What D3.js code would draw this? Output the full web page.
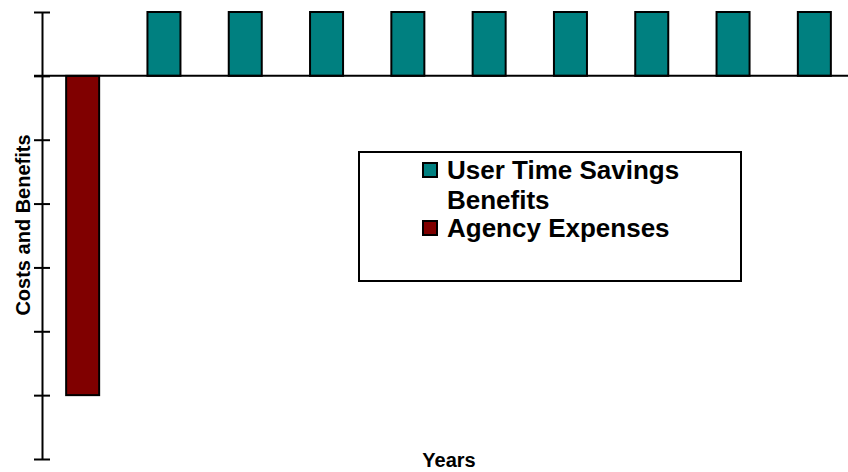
<!DOCTYPE html>
<html>
<head>
<meta charset="utf-8">
<script src="https://cdn.jsdelivr.net/npm/d3@7"></script>
<style>
    body { margin: 0; background: #fff; }
    text { font-family: "Liberation Sans", Arial, sans-serif; font-weight: bold; }
</style>
</head>
<body>
<script>
(function() {
    // chart data
    var years = [0, 1, 2, 3, 4, 5, 6, 7, 8, 9];
    var benefits = [0, 1, 1, 1, 1, 1, 1, 1, 1, 1];
    var expenses = [-5, 0, 0, 0, 0, 0, 0, 0, 0, 0];
    var yTicks = [-6, -5, -4, -3, -2, -1, 0, 1];
    var legendLabels = [["User Time Savings", "Benefits"], ["Agency Expenses"]];
    var colors = ["#008080", "#800000"];

    var width = 848, height = 472;
    var svg = d3.select("body").append("svg")
        .attr("width", width)
        .attr("height", height);

    var x = d3.scaleBand()
        .domain(years)
        .range([42, 855])
        .paddingInner(0.594)
        .paddingOuter(0.297);

    var y = d3.scaleLinear()
        .domain([-6, 1])
        .range([459, 12]);

    // y axis
    var yAxis = svg.append("g")
        .attr("transform", "translate(42,0)")
        .call(d3.axisLeft(y).tickValues(yTicks).tickSize(0).tickFormat(""));
    yAxis.select(".domain").attr("stroke", "#000").attr("stroke-width", 2);
    yAxis.selectAll(".tick line")
        .attr("x1", -8).attr("x2", 8)
        .attr("stroke", "#000").attr("stroke-width", 2);

    // bars
    svg.selectAll(".benefit")
        .data(years.filter(function(d, i) { return benefits[i] !== 0; }))
        .enter().append("rect")
        .attr("x", function(d) { return x(d); })
        .attr("y", function(d) { return y(benefits[d]); })
        .attr("width", x.bandwidth())
        .attr("height", function(d) { return y(0) - y(benefits[d]); })
        .attr("fill", colors[0])
        .attr("stroke", "#000").attr("stroke-width", 2);

    svg.selectAll(".expense")
        .data(years.filter(function(d, i) { return expenses[i] !== 0; }))
        .enter().append("rect")
        .attr("x", function(d) { return x(d); })
        .attr("y", y(0))
        .attr("width", x.bandwidth())
        .attr("height", function(d) { return y(expenses[d]) - y(0); })
        .attr("fill", colors[1])
        .attr("stroke", "#000").attr("stroke-width", 2);

    // zero line
    svg.append("line")
        .attr("x1", 34).attr("x2", width)
        .attr("y1", y(0)).attr("y2", y(0))
        .attr("stroke", "#000").attr("stroke-width", 2);

    // axis titles
    svg.append("text")
        .attr("transform", "translate(30,225) rotate(-90)")
        .attr("text-anchor", "middle")
        .style("font-size", "20px")
        .text("Costs and Benefits");

    svg.append("text")
        .attr("x", 449).attr("y", 467)
        .attr("text-anchor", "middle")
        .style("font-size", "20px")
        .text("Years");

    // legend
    var legend = svg.append("g");
    legend.append("rect")
        .attr("x", 359).attr("y", 152)
        .attr("width", 382).attr("height", 129)
        .attr("fill", "#fff")
        .attr("stroke", "#000").attr("stroke-width", 2);

    var rowY = [[179, 209], [237]];
    legendLabels.forEach(function(lines, i) {
        legend.append("rect")
            .attr("x", 423).attr("y", rowY[i][0] - 16)
            .attr("width", 14).attr("height", 14)
            .attr("fill", colors[i])
            .attr("stroke", "#000").attr("stroke-width", 2);
        lines.forEach(function(line, j) {
            legend.append("text")
                .attr("x", 447).attr("y", rowY[i][j])
                .style("font-size", "26px")
                .text(line);
        });
    });
})();
</script>
</body>
</html>
